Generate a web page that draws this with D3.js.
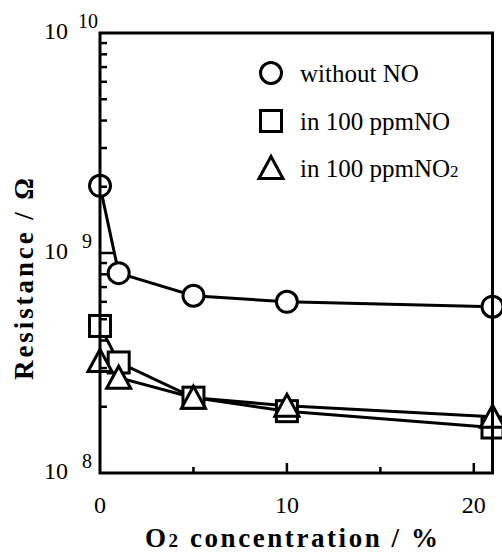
<!DOCTYPE html>
<html>
<head>
<meta charset="utf-8">
<script src="https://cdn.jsdelivr.net/npm/d3@7"></script>
</head>
<body style="margin:0; background:#fff">
<div id="chart"></div>
<script>
const o2 = [0, 1, 5, 10, 21];
const withoutNO = [2.02e9, 8.1e8, 6.4e8, 6.0e8, 5.7e8];
const ppmNO = [4.66e8, 3.18e8, 2.2e8, 1.91e8, 1.61e8];
const ppmNO2 = [3.23e8, 2.71e8, 2.2e8, 2.02e8, 1.8e8];
const seriesNames = ["without NO", "in 100 ppmNO", "in 100 ppmNO2"];
const xTickLabels = [0, 10, 20];
const xMinorTicks = [5, 10, 15, 20];
const yExponents = [8, 9, 10];

const main = function() {
  const svg = d3.select("#chart")
    .append("svg")
    .attr("width", 502)
    .attr("height", 554);

  const x = d3.scaleLinear().domain([0, 21]).range([100, 492.5]);
  const y = d3.scaleLog().domain([1e8, 1e10]).range([473, 33]);

  // lines first, markers on top
  const line = d3.line().x(d => x(d[0])).y(d => y(d[1]));
  const all = [withoutNO, ppmNO, ppmNO2];
  all.forEach(vals => {
    svg.append("path")
      .datum(o2.map((v, i) => [v, vals[i]]))
      .attr("d", line)
      .attr("fill", "none")
      .attr("stroke", "#000")
      .attr("stroke-width", 3);
  });

  const drawMarker = function(g, kind, cx, cy) {
    if (kind === 0) {
      g.append("circle").attr("cx", cx).attr("cy", cy).attr("r", 10.5);
    } else if (kind === 1) {
      g.append("rect").attr("x", cx - 10.5).attr("y", cy - 10.5)
        .attr("width", 21).attr("height", 21);
    } else {
      g.append("path")
        .attr("d", "M" + cx + "," + (cy - 11.5) + "L" + (cx + 12) + "," + (cy + 10.5) +
          "L" + (cx - 12) + "," + (cy + 10.5) + "Z");
    }
  };

  const marks = svg.append("g")
    .attr("fill", "#fff")
    .attr("stroke", "#000")
    .attr("stroke-width", 3);
  all.forEach((vals, k) => {
    vals.forEach((v, i) => drawMarker(marks, k, x(o2[i]), y(v)));
  });

  // frame
  svg.append("rect")
    .attr("x", x(0)).attr("y", y(1e10))
    .attr("width", x(21) - x(0)).attr("height", y(1e8) - y(1e10))
    .attr("fill", "none").attr("stroke", "#000").attr("stroke-width", 3);

  // bottom ticks, inward
  svg.selectAll(".xt")
    .data(xMinorTicks)
    .enter()
    .append("line")
    .attr("x1", d => x(d)).attr("x2", d => x(d))
    .attr("y1", y(1e8))
    .attr("y2", d => y(1e8) - (d % 10 === 0 ? 10 : 6))
    .attr("stroke", "#000").attr("stroke-width", 2.5);

  // left ticks, inward
  const yTicks = y.ticks().filter(v => v > 1e8 && v < 1e10);
  svg.selectAll(".yt")
    .data(yTicks)
    .enter()
    .append("line")
    .attr("x1", x(0))
    .attr("x2", d => x(0) + (d === 1e9 ? 15 : 7))
    .attr("y1", d => y(d)).attr("y2", d => y(d))
    .attr("stroke", "#000").attr("stroke-width", 2.5);

  // tick labels
  svg.selectAll(".xl")
    .data(xTickLabels)
    .enter()
    .append("text")
    .attr("x", d => x(d))
    .attr("y", 513)
    .attr("text-anchor", "middle")
    .style("font", "24px 'Times New Roman'")
    .text(d => d);

  const yl = svg.selectAll(".yl")
    .data(yExponents)
    .enter()
    .append("g");
  yl.append("text")
    .attr("x", 68)
    .attr("y", d => y(Math.pow(10, d)) + 6)
    .attr("text-anchor", "end")
    .style("font", "24px 'Times New Roman'")
    .text("10");
  yl.append("text")
    .attr("x", d => d === 10 ? 78 : 82)
    .attr("y", d => y(Math.pow(10, d)) - 5)
    .style("font", "20px 'Times New Roman'")
    .text(d => d);

  // axis titles
  const xt = svg.append("text")
    .attr("x", 145)
    .attr("y", 547)
    .attr("textLength", 293)
    .attr("lengthAdjust", "spacing")
    .style("font", "bold 27px 'Times New Roman'");
  xt.append("tspan").text("O");
  xt.append("tspan").style("font-size", "19px").text("2");
  xt.append("tspan").text(" concentration / %");

  svg.append("text")
    .attr("transform", "translate(33,380) rotate(-90)")
    .attr("textLength", 202)
    .attr("lengthAdjust", "spacing")
    .style("font", "bold 27px 'Times New Roman'")
    .text("Resistance / \u03A9");

  // legend
  const legY = [73, 121, 168];
  const leg = svg.append("g")
    .attr("fill", "#fff")
    .attr("stroke", "#000")
    .attr("stroke-width", 3);
  seriesNames.forEach((name, k) => {
    drawMarker(leg, k, 271, legY[k]);
    const t = svg.append("text")
      .attr("x", 300)
      .attr("y", legY[k] + 9)
      .style("font", "25px 'Times New Roman'");
    if (k === 2) {
      t.append("tspan").text("in 100 ppmNO");
      t.append("tspan").style("font-size", "17px").text("2");
    } else {
      t.text(name);
    }
  });
};

main();
</script>
</body>
</html>
